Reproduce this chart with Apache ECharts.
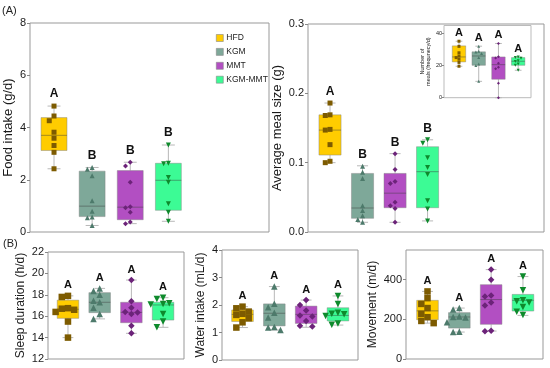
<!DOCTYPE html>
<html><head><meta charset="utf-8">
<script src="https://cdn.jsdelivr.net/npm/echarts@6.0.0/dist/echarts.min.js"></script>
<style>html,body{margin:0;padding:0;background:#fff}#c{width:550px;height:368px}</style>
</head><body><div id="c"></div><script>
// ---------------- data ----------------
const groups = ['HFD', 'KGM', 'MMT', 'KGM-MMT'];

// box stats: [min, Q1, median, Q3, max]
const foodBox = [[2.42,3.12,3.70,4.38,4.82],[0.25,0.59,0.99,2.33,2.47],[0.32,0.47,0.95,2.35,2.67],[0.41,0.83,1.98,2.63,3.33]];
const foodPts = [[4.82,4.44,4.26,3.82,3.59,3.31,3.05,2.42],[2.47,2.40,2.15,1.20,0.79,0.57,0.55,0.25],[2.67,2.53,1.90,0.97,0.93,0.76,0.38,0.32],[3.33,2.63,2.61,2.09,1.90,1.08,0.76,0.41]];
const foodLetters = ['A','B','B','B'];

const mealBox = [[0.100,0.111,0.147,0.169,0.186],[0.014,0.0197,0.0346,0.0845,0.0955],[0.014,0.035,0.056,0.0845,0.113],[0.016,0.035,0.087,0.123,0.133]];
const mealPts = [[0.186,0.169,0.168,0.148,0.147,0.126,0.102,0.100],[0.095,0.086,0.077,0.038,0.031,0.0235,0.018,0.014],[0.113,0.090,0.073,0.070,0.043,0.038,0.034,0.014],[0.133,0.128,0.107,0.093,0.083,0.045,0.033,0.016]];
const mealLetters = ['A','B','B','B'];

const freqBox = [[19.6,22.3,25.4,32.3,35.2],[10.2,20.2,26,28.6,32.1],[0,11.5,20.6,25.4,33.8],[17.1,20.2,22.7,25,25.3]];
const freqPts = [[35.2,32,28,26,25,24,22,19.6],[32.1,29,28.5,27.5,25,21,20,10.2],[33.8,25.5,24.8,21.5,19,18,9,0],[25.3,25,24.6,23,22.5,21,20.3,17.1]];
const freqLetters = ['A','A','A','A'];

const sleepBox = [[14.0,15.8,16.65,17.5,17.9],[15.75,16.33,17.3,18.2,18.6],[14.4,15.39,16.36,17.3,19.38],[14.96,15.64,17.05,17.3,17.73]];
const sleepPts = [[17.9,17.8,16.75,16.7,16.6,16.4,15.5,14.0],[18.6,18.35,18.0,17.45,17.3,16.8,16.2,15.75],[19.38,17.4,16.8,16.4,16.35,16.2,15.1,14.4],[17.73,17.6,17.2,17.15,17.1,16.2,15.5,14.96]];
const sleepLetters = ['A','A','A','A'];

const waterBox = [[1.18,1.40,1.66,1.82,1.94],[1.09,1.24,1.70,2.04,2.67],[1.19,1.33,1.66,1.96,2.18],[1.27,1.42,1.62,1.90,2.33]];
const waterPts = [[1.94,1.88,1.76,1.68,1.64,1.52,1.37,1.18],[2.67,2.05,1.92,1.72,1.55,1.2,1.18,1.09],[2.18,2.0,1.8,1.62,1.58,1.42,1.25,1.22],[2.33,2.04,1.72,1.68,1.66,1.6,1.33,1.28]];
const waterLetters = ['A','A','A','A'];

const moveBox = [[181,198,243,296,341],[136,156,212,234,257],[141,175,300,375,451],[220,242,296,326,416]];
const movePts = [[341,307,278,257,228,211,192,181],[257,250,214,212,210,186,138,136],[452,400,320,315,285,270,142,140],[416,347,296,292,285,262,238,222]];
const moveLetters = ['A','A','A','A'];

// ---------------- styles ----------------
const FONT = '"Liberation Sans", Arial, Helvetica, sans-serif';
const fills = ['#FFCC00', '#7EA899', '#B24FC2', '#3CFB95'];
const dots = ['#7D5B00', '#4D7A6B', '#6C2379', '#0E8A2C'];
const symbols = ['rect', 'triangle', 'diamond', 'triangle'];
const rotations = [0, 0, 0, 180];
const BW = 0.68;

const panels = [
  {name:'Food intake (g/d)', box:foodBox, pts:foodPts, letters:foodLetters, yMin:0, yMax:8, interval:2, dec:0,
   grid:{left:30, top:23, width:239, height:209}, xMin:0.37, xMax:6.64, nameGap:11, nameSize:13, labelSize:11,
   dot:5, letterSize:12, letterGap:12, border:'#999'},
  {name:'Average meal size (g)', box:mealBox, pts:mealPts, letters:mealLetters, yMin:0, yMax:0.3, interval:0.1, dec:1,
   grid:{left:308, top:24, width:236, height:208}, xMin:0.323, xMax:7.58, nameGap:17, nameSize:13, labelSize:11,
   dot:5, letterSize:12, letterGap:11, border:'#999'},
  {name:'Number of\nmeals (frequnecy/d)', box:freqBox, pts:freqPts, letters:freqLetters, yMin:0, yMax:45, interval:20, dec:0,
   grid:{left:444, top:25.5, width:87, height:72.2}, xMin:0.24, xMax:4.65, nameGap:6, nameSize:5.5, labelSize:5.5,
   dot:3, letterSize:11, letterGap:8.5, border:'#bbb', hideMax:true, labelMargin:2, tickLen:2},
  {name:'Sleep duration (h/d)', box:sleepBox, pts:sleepPts, letters:sleepLetters, yMin:12, yMax:22, interval:2, dec:0,
   grid:{left:48, top:252, width:136, height:107}, xMin:0.37, xMax:4.66, nameGap:20, nameSize:12, labelSize:11,
   dot:6.5, letterSize:11, letterGap:10.5, border:'#999'},
  {name:'Water intake (mL/d)', box:waterBox, pts:waterPts, letters:waterLetters, yMin:0, yMax:4, interval:1, dec:0,
   grid:{left:222, top:250, width:136, height:110}, xMin:0.355, xMax:4.63, nameGap:11, nameSize:12, labelSize:11,
   dot:6.5, letterSize:11, letterGap:10.5, border:'#999'},
  {name:'Movement (m/d)', box:moveBox, pts:movePts, letters:moveLetters, yMin:0, yMax:550, interval:200, dec:0,
   grid:{left:406, top:250, width:137, height:109}, xMin:0.324, xMax:4.63, nameGap:24, nameSize:12, labelSize:11,
   dot:6.5, letterSize:11, letterGap:10.5, border:'#999', hideMax:true}
];

// deterministic beeswarm offsets (pixels)
function swarm(vals, pxPerY, size) {
  const order = vals.map((v, i) => i).sort((a, b) => vals[b] - vals[a]);
  const placed = [];
  const off = new Array(vals.length).fill(0);
  const cands = [0, -1, 1, -2, 2, -3, 3];
  order.forEach(i => {
    const y = vals[i] * pxPerY;
    for (const c of cands) {
      const x = c * size * 0.95;
      if (placed.every(p => Math.hypot(p.x - x, p.y - y) >= size * 0.95)) {
        off[i] = x; placed.push({x, y}); break;
      }
    }
  });
  return off;
}

const option = {
  animation: false,
  backgroundColor: '#fff',
  grid: [], xAxis: [], yAxis: [], series: [],
  legend: {
    data: groups, orient: 'vertical', left: 211, top: 28.5,
    itemWidth: 7, itemHeight: 7, itemGap: 4.9, icon: 'rect', selectedMode: false,
    textStyle: {fontSize: 8.5, fontFamily: FONT, color: '#222', padding: [0, 0, 0, -2]},
    itemStyle: {borderColor: '#888', borderWidth: 0.6}
  },
  graphic: [
    {type: 'text', left: 2, top: 5, style: {text: '(A)', font: '11px ' + FONT, fill: '#222'}},
    {type: 'text', left: 3, top: 238, style: {text: '(B)', font: '11px ' + FONT, fill: '#222'}}
  ]
};

panels.forEach((p, pi) => {
  option.grid.push(Object.assign({show: true, borderColor: p.border, borderWidth: 1, backgroundColor: '#fff', containLabel: false}, p.grid));
  option.xAxis.push({type: 'value', gridIndex: pi, min: p.xMin, max: p.xMax, show: false});
  option.yAxis.push({
    type: 'value', gridIndex: pi, min: p.yMin, max: p.yMax, interval: p.interval,
    name: p.name, nameLocation: 'middle', nameGap: p.nameGap, nameRotate: 90,
    nameTextStyle: {fontSize: p.nameSize, fontFamily: FONT, color: '#1a1a1a', lineHeight: p.nameSize * 1.15},
    axisLine: {show: false},
    axisTick: {show: true, length: p.tickLen || 3, lineStyle: {color: '#888'}},
    splitLine: {show: false},
    axisLabel: {fontSize: p.labelSize, fontFamily: FONT, color: '#1a1a1a', margin: p.labelMargin || 4,
      showMaxLabel: !p.hideMax,
      formatter: v => (Math.abs(v / p.interval - Math.round(v / p.interval)) < 1e-6) ? Number(v).toFixed(p.dec) : ''}
  });
  const pxPerY = p.grid.height / (p.yMax - p.yMin);
  const pxPerX = p.grid.width / (p.xMax - p.xMin);
  groups.forEach((g, gi) => {
    const xc = gi + 1;
    const b = p.box[gi];
    const letter = p.letters[gi];
    option.series.push({
      type: 'custom', name: g, xAxisIndex: pi, yAxisIndex: pi, z: 2,
      itemStyle: {color: fills[gi]},
      data: [[xc, b[0], b[1], b[2], b[3], b[4]]],
      encode: {x: 0, y: [1, 2, 3, 4, 5]},
      renderItem: (params, api) => {
        const x = api.value(0);
        const pMin = api.coord([x, api.value(1)]);
        const pQ1 = api.coord([x, api.value(2)]);
        const pMed = api.coord([x, api.value(3)]);
        const pQ3 = api.coord([x, api.value(4)]);
        const pMax = api.coord([x, api.value(5)]);
        const hw = api.size([BW, 0])[0] / 2;
        const cw = hw * 0.5;
        const cx = pMin[0];
        const wl = {stroke: '#b8b8b8', lineWidth: 1};
        return {type: 'group', children: [
          {type: 'line', shape: {x1: cx, y1: pQ3[1], x2: cx, y2: pMax[1]}, style: wl},
          {type: 'line', shape: {x1: cx, y1: pQ1[1], x2: cx, y2: pMin[1]}, style: wl},
          {type: 'line', shape: {x1: cx - cw, y1: pMax[1], x2: cx + cw, y2: pMax[1]}, style: wl},
          {type: 'line', shape: {x1: cx - cw, y1: pMin[1], x2: cx + cw, y2: pMin[1]}, style: wl},
          {type: 'rect', shape: {x: cx - hw, y: pQ3[1], width: 2 * hw, height: pQ1[1] - pQ3[1]},
            style: {fill: fills[gi], stroke: 'rgba(130,130,130,0.45)', lineWidth: 1}},
          {type: 'line', shape: {x1: cx - hw, y1: pMed[1], x2: cx + hw, y2: pMed[1]},
            style: {stroke: 'rgba(60,60,60,0.45)', lineWidth: 1}},
          {type: 'text', x: cx, y: pMax[1] - p.letterGap,
            style: {text: letter, font: 'bold ' + p.letterSize + 'px ' + FONT, fill: '#111', align: 'center', verticalAlign: 'middle'}}
        ]};
      }
    });
    const vals = p.pts[gi];
    const offs = swarm(vals, pxPerY, p.dot);
    option.series.push({
      type: 'scatter', name: g, xAxisIndex: pi, yAxisIndex: pi, z: 3,
      symbol: symbols[gi], symbolRotate: rotations[gi], symbolSize: p.dot,
      itemStyle: {color: dots[gi], opacity: 1},
      silent: true,
      data: vals.map((v, k) => [xc + offs[k] / pxPerX, v])
    });
  });
});

const chart = echarts.init(document.getElementById('c'), null, {renderer: 'canvas'});
chart.setOption(option);
</script></body></html>
